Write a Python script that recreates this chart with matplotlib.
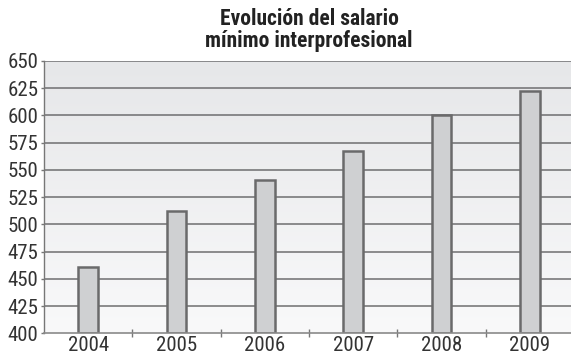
import numpy as np
import matplotlib
matplotlib.use('Agg')
import matplotlib.pyplot as plt
from matplotlib.colors import LinearSegmentedColormap

plt.rcParams['font.family'] = ['Roboto Condensed', 'DejaVu Sans']

years = ['2004', '2005', '2006', '2007', '2008', '2009']
salario = [460.5, 512, 540.5, 567, 600, 622]
y_ticks = [400, 425, 450, 475, 500, 525, 550, 575, 600, 625, 650]

W, H = 571, 358
fig = plt.figure(figsize=(W / 100, H / 100), dpi=100)
ax = fig.add_axes([44 / W, 1 - 333.3 / H, 530 / W, (333.3 - 61) / H])

x = np.arange(len(years))
ax.set_xlim(-0.5, len(years) - 0.5)
ax.set_ylim(y_ticks[0], y_ticks[-1])

# soft vertical gradient behind the plot
grad = LinearSegmentedColormap.from_list('bg', ['#f9f9fa', '#e6e7e9'])
ax.imshow(np.linspace(0, 1, 256)[:, None], aspect='auto', cmap=grad,
          origin='lower', extent=(-0.5, len(years) - 0.5, y_ticks[0], y_ticks[-1]),
          zorder=0)

for t in y_ticks[1:]:
    ax.axhline(t, color='#6e6e70', lw=1.1, zorder=1)

ax.bar(x, np.array(salario) - y_ticks[0], bottom=y_ticks[0], width=0.225,
       color='#cfd0d2', edgecolor='#6a6a6b', linewidth=1.8, zorder=2)

ax.set_xticks(x)
ax.set_xticklabels(years)
ax.set_xticks(np.arange(0.5, len(years) - 1, 1), minor=True)
ax.set_yticks(y_ticks)

ax.tick_params(axis='x', which='major', length=0, pad=2, labelsize=15,
               labelcolor='#333333')
ax.tick_params(axis='x', which='minor', length=6, direction='inout',
               color='#777777', width=1)
ax.tick_params(axis='y', length=2.2, direction='out', pad=2, labelsize=15,
               labelcolor='#333333', color='#777777', width=1)

for s in ['top', 'right']:
    ax.spines[s].set_visible(False)
ax.spines['left'].set_color('#777777')
ax.spines['bottom'].set_color('#8a8a8a')
ax.spines['left'].set_linewidth(1)
ax.spines['bottom'].set_linewidth(1.2)

ax.set_title('Evolución del salario\nmínimo interprofesional',
             fontsize=15.5, fontweight='bold', color='#222222',
             linespacing=0.98, pad=10)

fig.savefig('out.png', dpi=100)
